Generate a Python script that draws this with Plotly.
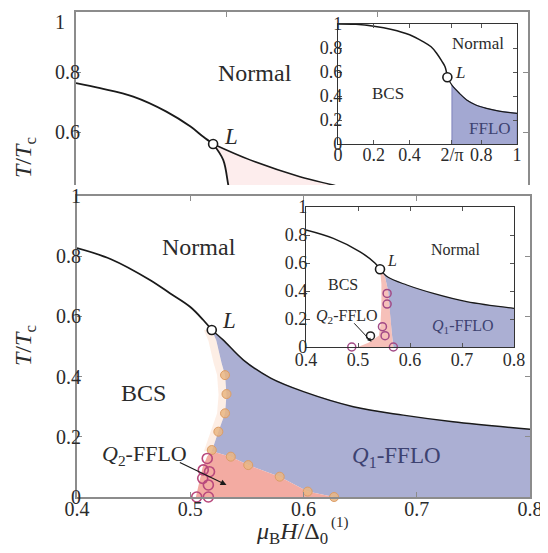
import math
import plotly.graph_objects as go

# ---------------- data ----------------
# top main panel (partly covered)
top_normal_h = [0.400, 0.416, 0.438, 0.460, 0.476, 0.4845, 0.491]
top_normal_T = [0.763, 0.746, 0.718, 0.668, 0.618, 0.584, 0.560]
top_bcs_h = [0.491, 0.4977, 0.5011, 0.5025]
top_bcs_T = [0.560, 0.507, 0.423, 0.390]
top_fflo_h = [0.491, 0.5155, 0.5486, 0.5707, 0.600]
top_fflo_T = [0.560, 0.507, 0.451, 0.423, 0.386]
top_L = (0.491, 0.560)

# top inset
in1_normal_h = [0.0, 0.1, 0.2, 0.3, 0.4, 0.475, 0.52, 0.551, 0.58, 0.598, 0.611]
in1_normal_T = [1.0, 0.997, 0.982, 0.955, 0.91, 0.853, 0.81, 0.756, 0.69, 0.644, 0.556]
in1_fflo_h = [0.611, 2 / math.pi, 0.68, 0.719, 0.77, 0.83, 0.90, 1.0]
in1_fflo_T = [0.556, 0.49, 0.42, 0.367, 0.325, 0.297, 0.274, 0.256]
in1_L = (0.611, 0.556)
in1_xticks = [0, 0.2, 0.4, 2 / math.pi, 0.8, 1]
in1_xtext = ["0", "0.2", "0.4", "2/\u03c0", "0.8", "1"]

# bottom main panel
normal_h = [0.400, 0.430, 0.4644, 0.482, 0.4998, 0.5115, 0.519]
normal_T = [0.827, 0.790, 0.721, 0.677, 0.632, 0.588, 0.555]
fflo_h = [0.519, 0.529, 0.547, 0.571, 0.600, 0.644, 0.688, 0.732, 0.800]
fflo_T = [0.555, 0.522, 0.455, 0.395, 0.350, 0.300, 0.272, 0.250, 0.225]
bcs_q1_h = [0.519, 0.523, 0.5277, 0.5307, 0.532, 0.5307, 0.5248, 0.519]
bcs_q1_T = [0.555, 0.520, 0.444, 0.405, 0.339, 0.278, 0.217, 0.152]
q1_q2_h = [0.519, 0.5358, 0.5512, 0.579, 0.6037, 0.627]
q1_q2_T = [0.152, 0.134, 0.106, 0.0675, 0.018, 0.0]
bcs_q2_h = [0.519, 0.515, 0.511, 0.508, 0.505]
bcs_q2_T = [0.152, 0.135, 0.10, 0.05, 0.0]
orange_h = [0.5307, 0.532, 0.5307, 0.5248, 0.519, 0.5358, 0.5512, 0.579, 0.6037, 0.627]
orange_T = [0.405, 0.342, 0.278, 0.217, 0.156, 0.134, 0.106, 0.0675, 0.018, 0.0]
purple_h = [0.5057, 0.516, 0.516, 0.511, 0.517, 0.5115, 0.515]
purple_T = [0.0, 0.0, 0.04, 0.062, 0.084, 0.09, 0.128]
main_L = (0.519, 0.555)

# bottom inset
in2_normal_h = [0.400, 0.4525, 0.504, 0.533, 0.5423]
in2_normal_T = [0.836, 0.776, 0.680, 0.598, 0.555]
in2_fflo_h = [0.5423, 0.558, 0.594, 0.645, 0.709, 0.800]
in2_fflo_T = [0.555, 0.498, 0.443, 0.383, 0.324, 0.276]
in2_edge_h = [0.5423, 0.552, 0.558, 0.560, 0.562, 0.565, 0.568]
in2_edge_T = [0.555, 0.50, 0.40, 0.30, 0.20, 0.10, 0.0]
in2_pink_left_h = [0.5423, 0.545, 0.545, 0.543, 0.540, 0.520, 0.500]
in2_pink_left_T = [0.555, 0.45, 0.30, 0.15, 0.08, 0.03, 0.0]
in2_circ_h = [0.556, 0.556, 0.547, 0.552, 0.488, 0.568]
in2_circ_T = [0.383, 0.307, 0.145, 0.081, 0.0, 0.0]
in2_black_h = [0.524]
in2_black_T = [0.079]
in2_L = (0.5423, 0.555)

# ---------------- style ----------------
OFF = 8                     # page body margin of the browser
W, H = 548 - OFF, 553 - OFF
SERIF = "Liberation Serif"
BLUE = "#abafd3"
PINK = "#f3aba2"
TXT = "#2b2b2b"


def px(x):
    return (x - OFF) / W


def py(y):
    return 1 - (y - OFF) / H


fig = go.Figure()

# ---- top main panel ----
fig.add_trace(go.Scatter(x=top_bcs_h + top_fflo_h[::-1], y=top_bcs_T + top_fflo_T[::-1],
                         fill="toself", fillcolor="rgba(250,195,195,0.3)", line=dict(width=0),
                         mode="lines", xaxis="x", yaxis="y", hoverinfo="skip"))
fig.add_trace(go.Scatter(x=top_normal_h, y=top_normal_T, mode="lines",
                         line=dict(color="#1a1a1a", width=1.8, shape="spline"), xaxis="x", yaxis="y"))
fig.add_trace(go.Scatter(x=top_bcs_h, y=top_bcs_T, mode="lines",
                         line=dict(color="#1a1a1a", width=1.8, shape="spline"), xaxis="x", yaxis="y"))
fig.add_trace(go.Scatter(x=top_fflo_h, y=top_fflo_T, mode="lines",
                         line=dict(color="#1a1a1a", width=1.5, shape="spline"), xaxis="x", yaxis="y"))
fig.add_trace(go.Scatter(x=[top_L[0]], y=[top_L[1]], mode="markers",
                         marker=dict(size=9, color="white", line=dict(color="#1a1a1a", width=1.6)),
                         xaxis="x", yaxis="y"))

# ---- top inset ----
in1_fill_h = [2 / math.pi, 2 / math.pi] + in1_fflo_h[2:] + [1.0]
in1_fill_T = [0.0, 0.49] + in1_fflo_T[2:] + [0.0]
fig.add_trace(go.Scatter(x=in1_fill_h, y=in1_fill_T, fill="toself", fillcolor="#a3a8d2",
                         line=dict(color="#7d83bb", width=1), mode="lines",
                         xaxis="x2", yaxis="y2", hoverinfo="skip"))
fig.add_trace(go.Scatter(x=in1_normal_h, y=in1_normal_T, mode="lines",
                         line=dict(color="#1a1a1a", width=1.5, shape="spline"), xaxis="x2", yaxis="y2"))
fig.add_trace(go.Scatter(x=in1_fflo_h, y=in1_fflo_T, mode="lines",
                         line=dict(color="#1a1a1a", width=1.2, shape="spline"), xaxis="x2", yaxis="y2"))
fig.add_trace(go.Scatter(x=[in1_L[0]], y=[in1_L[1]], mode="markers",
                         marker=dict(size=9, color="white", line=dict(color="#1a1a1a", width=1.6)),
                         xaxis="x2", yaxis="y2"))

# ---- bottom main panel ----
q1_h = fflo_h + [0.8, 0.8] + q1_q2_h[::-1] + bcs_q1_h[::-1]
q1_T = fflo_T + [0.225, 0.0] + q1_q2_T[::-1] + bcs_q1_T[::-1]
fig.add_trace(go.Scatter(x=q1_h, y=q1_T, fill="toself", fillcolor=BLUE, line=dict(width=0),
                         mode="lines", xaxis="x3", yaxis="y3", hoverinfo="skip"))
q2_h = q1_q2_h + bcs_q2_h[::-1]
q2_T = q1_q2_T + bcs_q2_T[::-1]
fig.add_trace(go.Scatter(x=q2_h, y=q2_T, fill="toself", fillcolor=PINK, line=dict(width=0),
                         mode="lines", xaxis="x3", yaxis="y3", hoverinfo="skip"))
glow_h = bcs_q1_h + [h - 0.007 for h in bcs_q1_h[::-1]]
glow_T = bcs_q1_T + bcs_q1_T[::-1]
fig.add_trace(go.Scatter(x=glow_h, y=glow_T, fill="toself", fillcolor="rgba(250,200,170,0.3)",
                         line=dict(width=0), mode="lines", xaxis="x3", yaxis="y3", hoverinfo="skip"))
fig.add_trace(go.Scatter(x=normal_h, y=normal_T, mode="lines",
                         line=dict(color="#1a1a1a", width=1.8, shape="spline"), xaxis="x3", yaxis="y3"))
fig.add_trace(go.Scatter(x=fflo_h, y=fflo_T, mode="lines",
                         line=dict(color="#1a1a1a", width=1.5, shape="spline"), xaxis="x3", yaxis="y3"))
fig.add_trace(go.Scatter(x=orange_h, y=orange_T, mode="markers",
                         marker=dict(size=9, color="rgba(234,182,130,0.85)",
                                     line=dict(color="#dc9d66", width=1)),
                         xaxis="x3", yaxis="y3", cliponaxis=False))
fig.add_trace(go.Scatter(x=purple_h, y=purple_T, mode="markers",
                         marker=dict(size=10, symbol="circle-open", color="#b8487c",
                                     line=dict(width=1.6)),
                         xaxis="x3", yaxis="y3", cliponaxis=False))
fig.add_trace(go.Scatter(x=[main_L[0]], y=[main_L[1]], mode="markers",
                         marker=dict(size=9, color="white", line=dict(color="#1a1a1a", width=1.6)),
                         xaxis="x3", yaxis="y3"))

# ---- bottom inset ----
in2_blue_h = in2_fflo_h + [0.8, 0.8] + in2_edge_h[::-1]
in2_blue_T = in2_fflo_T + [0.276, 0.0] + in2_edge_T[::-1]
fig.add_trace(go.Scatter(x=in2_blue_h, y=in2_blue_T, fill="toself", fillcolor=BLUE, line=dict(width=0),
                         mode="lines", xaxis="x4", yaxis="y4", hoverinfo="skip"))
in2_pink_h = in2_edge_h + in2_pink_left_h[::-1]
in2_pink_T = in2_edge_T + in2_pink_left_T[::-1]
fig.add_trace(go.Scatter(x=in2_pink_h, y=in2_pink_T, fill="toself", fillcolor="rgba(243,171,162,0.75)",
                         line=dict(width=0), mode="lines", xaxis="x4", yaxis="y4", hoverinfo="skip"))
fig.add_trace(go.Scatter(x=in2_normal_h, y=in2_normal_T, mode="lines",
                         line=dict(color="#1a1a1a", width=1.5, shape="spline"), xaxis="x4", yaxis="y4"))
fig.add_trace(go.Scatter(x=in2_fflo_h, y=in2_fflo_T, mode="lines",
                         line=dict(color="#1a1a1a", width=1.2, shape="spline"), xaxis="x4", yaxis="y4"))
fig.add_trace(go.Scatter(x=in2_circ_h, y=in2_circ_T, mode="markers",
                         marker=dict(size=8, symbol="circle-open", color="#a24a86", line=dict(width=1.5)),
                         xaxis="x4", yaxis="y4", cliponaxis=False))
fig.add_trace(go.Scatter(x=in2_black_h, y=in2_black_T, mode="markers",
                         marker=dict(size=8, symbol="circle-open", color="#222", line=dict(width=1.5)),
                         xaxis="x4", yaxis="y4"))
fig.add_trace(go.Scatter(x=[in2_L[0]], y=[in2_L[1]], mode="markers",
                         marker=dict(size=9, color="white", line=dict(color="#1a1a1a", width=1.6)),
                         xaxis="x4", yaxis="y4"))

# ---------------- axes ----------------
main_line = dict(showline=True, linecolor="#8c8c8c", linewidth=2, ticks="inside", ticklen=5,
                 tickcolor="#8c8c8c", tickwidth=1, showgrid=False, zeroline=False,
                 tickfont=dict(family=SERIF, size=20, color=TXT), automargin=False,
                 ticklabeloverflow="allow")
inset_line = dict(showline=True, linecolor="#333333", linewidth=1.3, mirror="ticks", ticks="inside",
                  ticklen=4, tickcolor="#555555", tickwidth=1, showgrid=False, zeroline=False,
                  tickfont=dict(family=SERIF, size=18, color=TXT), tickangle=0, automargin=False,
                  ticklabeloverflow="allow")

top_lo = 1 - (185 - 12) / 300
fig.update_layout(
    width=W, height=H, margin=dict(l=0, r=0, t=0, b=0, pad=0, autoexpand=False),
    paper_bgcolor="white", plot_bgcolor="white", showlegend=False,
    xaxis=dict(main_line, domain=[px(76), px(528)], range=[0.4, 0.7], side="top", mirror=False,
               tickvals=[0.5, 0.6], showticklabels=False, anchor="y"),
    yaxis=dict(main_line, domain=[py(185), py(12)], range=[top_lo, 1], mirror="ticks",
               tickvals=[0.6, 0.8, 1.0], ticktext=["0.6", "0.8", ""], anchor="x",
               ticklabelstandoff=-10),
    xaxis2=dict(inset_line, domain=[px(338), px(517)], range=[0, 1], anchor="y2",
                tickvals=in1_xticks, ticktext=in1_xtext, ticklabelstandoff=-6),
    yaxis2=dict(inset_line, domain=[py(144), py(24)], range=[0, 1], anchor="x2",
                tickvals=[0, 0.2, 0.4, 0.6, 0.8, 1], ticktext=["0", "0.2", "0.4", "0.6", "0.8", "1"],
                ticklabelstandoff=-9),
    xaxis3=dict(main_line, domain=[px(77), px(530)], range=[0.4, 0.8], anchor="y3", mirror="ticks",
                tickvals=[0.4, 0.5, 0.6, 0.7, 0.8], ticktext=["0.4", "0.5", "0.6", "0.7", "0.8"],
                ticklabelstandoff=-7),
    yaxis3=dict(main_line, domain=[py(497), py(196)], range=[0, 1], anchor="x3", mirror="ticks",
                tickvals=[0, 0.2, 0.4, 0.6, 0.8, 1], ticktext=["0", "0.2", "0.4", "0.6", "0.8", "1"],
                ticklabelstandoff=-10),
    xaxis4=dict(inset_line, domain=[px(306), px(514)], range=[0.4, 0.8], anchor="y4",
                tickvals=[0.4, 0.5, 0.6, 0.7, 0.8], ticktext=["0.4", "0.5", "0.6", "0.7", "0.8"],
                ticklabelstandoff=-4),
    yaxis4=dict(inset_line, domain=[py(347), py(207)], range=[0, 1], anchor="x4",
                tickvals=[0, 0.2, 0.4, 0.6, 0.8, 1], ticktext=["0", "0.2", "0.4", "0.6", "0.8", "1"],
                ticklabelstandoff=-6),
)

# ---------------- annotations ----------------
def txt(x, y, s, xr, yr, size, color=TXT, xanchor="center", yanchor="middle", **kw):
    fig.add_annotation(x=x, y=y, xref=xr, yref=yr, text=s, showarrow=False,
                       xanchor=xanchor, yanchor=yanchor,
                       font=dict(family=SERIF, size=size, color=color), **kw)


# "1" label of the top panel, kept just inside the page
txt(px(67), py(9), "1", "paper", "paper", 20, xanchor="right", yanchor="top")

txt(0.5186, 0.797, "Normal", "x", "y", 24)
txt(0.497, 0.585, "<i>L</i>", "x", "y", 23, xanchor="left")
txt(0.78, 0.84, "Normal", "x2", "y2", 17)
txt(0.28, 0.42, "BCS", "x2", "y2", 17)
txt(0.85, 0.13, "FFLO", "x2", "y2", 17, color="#3d4270")
txt(0.64, 0.60, "<i>L</i>", "x2", "y2", 17, xanchor="left")

txt(0.508, 0.83, "Normal", "x3", "y3", 24)
txt(0.4586, 0.344, "BCS", "x3", "y3", 24)
txt(0.526, 0.585, "<i>L</i>", "x3", "y3", 23, xanchor="left")
txt(0.682, 0.134, "<i>Q</i><sub>1</sub>-FFLO", "x3", "y3", 23, color="#3d4270")
txt(0.46, 0.14, "<i>Q</i><sub>2</sub>-FFLO", "x3", "y3", 22)
fig.add_annotation(x=0.532, y=0.04, ax=0.4895, ay=0.117, xref="x3", yref="y3", axref="x3", ayref="y3",
                   text="", showarrow=True, arrowhead=2, arrowsize=1, arrowwidth=1.2, arrowcolor="#1a1a1a")

txt(0.687, 0.693, "Normal", "x4", "y4", 16)
txt(0.472, 0.443, "BCS", "x4", "y4", 16)
txt(0.478, 0.216, "<i>Q</i><sub>2</sub>-FFLO", "x4", "y4", 16)
txt(0.702, 0.145, "<i>Q</i><sub>1</sub>-FFLO", "x4", "y4", 16, color="#3d4270")
txt(0.552, 0.616, "<i>L</i>", "x4", "y4", 16, xanchor="left")
fig.add_annotation(x=0.526, y=0.038, ax=0.49, ay=0.18, xref="x4", yref="y4", axref="x4", ayref="y4",
                   text="", showarrow=True, arrowhead=2, arrowsize=0.8, arrowwidth=1, arrowcolor="#1a1a1a")

# axis titles
txt(px(25), py(346), "<i>T</i>/<i>T</i><sub>c</sub>", "paper", "paper", 24, textangle=-90)
txt(px(25), py(158), "<i>T</i>/<i>T</i><sub>c</sub>", "paper", "paper", 24, textangle=-90)
txt(px(292), py(533), "<i>\u03bc</i><sub>B</sub><i>H</i>/\u0394<sub>0</sub>", "paper", "paper", 24)
txt(px(340), py(522), "(1)", "paper", "paper", 15)

fig.write_html("out.html")
